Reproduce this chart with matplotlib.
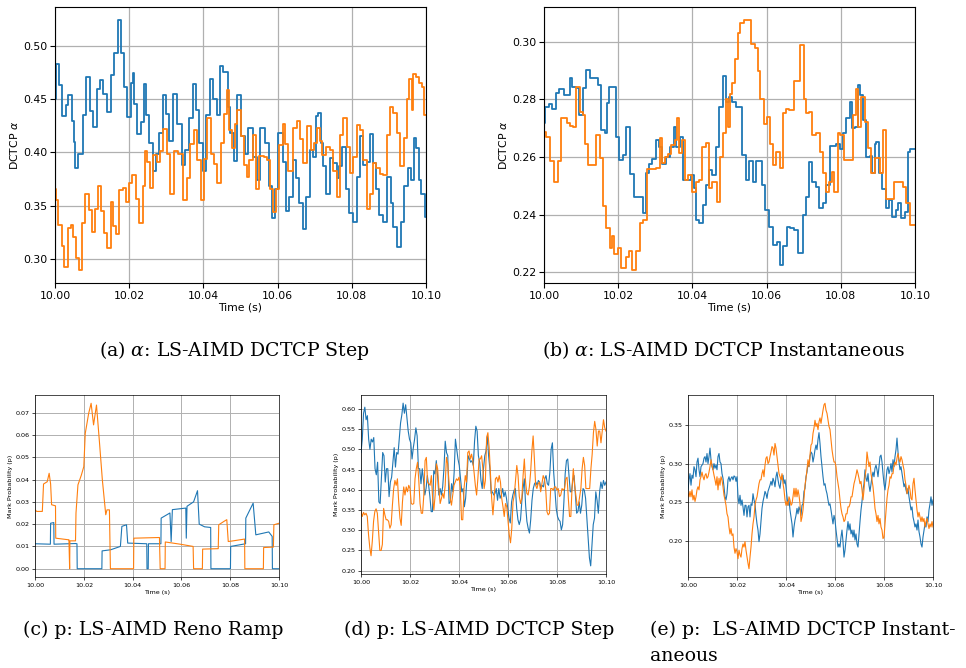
import numpy as np
import matplotlib
matplotlib.use("Agg")
import matplotlib.pyplot as plt
from matplotlib.ticker import FormatStrFormatter

BLUE = "#1f77b4"
ORANGE = "#ff7f0e"

# ---------------- (a) alpha: LS-AIMD DCTCP Step (times in ms after 10 s) ----------------
a_blue_t = [0, 0.2, 1.2, 2.0, 3.0, 3.6, 4.5, 5.0, 5.4, 6.3, 7.5, 8.4, 9.3, 10.3, 11.2, 12.1, 13.0,
            13.9, 15.0, 16.0, 17.1, 17.7, 18.6, 19.5, 20.4, 20.9, 21.3, 22.2, 23.1, 24.0, 24.5,
            25.4, 26.3, 27.2, 28.1, 29.0, 29.9, 30.8, 31.9, 33.0, 34.1, 35.0, 36.1, 37.1, 38.0,
            38.9, 39.8, 40.7, 41.8, 42.7, 43.6, 44.5, 45.4, 46.5, 47.3, 48.2, 49.1, 50.0, 51.2,
            52.1, 53.5, 54.4, 55.3, 56.6, 57.8, 58.4, 59.3, 60.2, 61.4, 62.3, 63.2, 64.1, 65.0,
            65.9, 66.8, 67.7, 68.6, 69.6, 70.4, 71.0, 71.6, 72.3, 73.0, 74.1, 75.0, 75.9, 76.6,
            77.3, 78.4, 79.3, 80.2, 81.3, 82.2, 83.1, 84.0, 84.9, 85.6, 86.5, 87.4, 88.5, 89.4,
            90.5, 91.2, 92.1, 93.3, 94.2, 95.1, 95.9, 96.8, 97.4, 98.1, 98.7, 99.6, 100]
a_blue_v = [0.450, 0.483, 0.463, 0.434, 0.445, 0.454, 0.430, 0.410, 0.385, 0.399, 0.435, 0.471,
            0.439, 0.424, 0.460, 0.468, 0.455, 0.438, 0.473, 0.494, 0.525, 0.494, 0.462, 0.433,
            0.465, 0.475, 0.446, 0.417, 0.429, 0.464, 0.435, 0.409, 0.383, 0.399, 0.418, 0.454,
            0.436, 0.411, 0.455, 0.427, 0.388, 0.402, 0.432, 0.464, 0.440, 0.409, 0.383, 0.435,
            0.469, 0.450, 0.435, 0.481, 0.476, 0.443, 0.418, 0.392, 0.454, 0.415, 0.399, 0.423,
            0.396, 0.374, 0.423, 0.409, 0.368, 0.338, 0.366, 0.418, 0.391, 0.345, 0.358, 0.393,
            0.376, 0.352, 0.328, 0.358, 0.402, 0.396, 0.434, 0.437, 0.409, 0.387, 0.361, 0.395,
            0.390, 0.376, 0.387, 0.405, 0.366, 0.343, 0.335, 0.377, 0.415, 0.388, 0.391, 0.417,
            0.390, 0.366, 0.341, 0.335, 0.377, 0.352, 0.330, 0.311, 0.335, 0.368, 0.385, 0.374,
            0.414, 0.404, 0.374, 0.361, 0.339, 0.339]
a_orng_t = [0, 0.3, 0.9, 1.8, 2.5, 3.4, 4.2, 4.9, 5.7, 6.6, 7.3, 8.2, 9.1, 9.9, 10.9, 11.7, 12.3,
            13.2, 14.1, 15.0, 15.7, 16.4, 17.3, 18.2, 19.1, 20.0, 20.8, 21.7, 22.6, 23.6, 24.3,
            24.9, 25.6, 26.5, 27.4, 28.3, 29.2, 30.1, 31.0, 32.1, 33.2, 34.4, 35.5, 36.4, 37.5,
            38.4, 39.3, 40.2, 41.1, 42.0, 42.9, 43.8, 44.7, 45.6, 46.3, 46.8, 47.7, 48.6, 49.1,
            50.0, 50.9, 51.7, 52.4, 53.3, 54.2, 55.1, 56.2, 57.1, 58.0, 58.7, 59.6, 60.5, 61.4,
            62.1, 62.8, 64.2, 65.1, 66.0, 66.9, 67.8, 68.9, 69.8, 70.7, 71.4, 72.1, 73.0, 74.1,
            75.0, 75.9, 76.8, 77.7, 78.6, 79.5, 80.4, 81.3, 82.2, 83.1, 84.0, 84.9, 85.8, 86.5,
            87.6, 88.5, 89.4, 90.3, 91.2, 92.1, 93.0, 94.1, 94.8, 95.5, 96.1, 96.6, 97.3, 98.2,
            98.8, 99.5, 100]
a_orng_v = [0.366, 0.355, 0.332, 0.312, 0.292, 0.329, 0.332, 0.320, 0.301, 0.289, 0.334, 0.361,
            0.346, 0.325, 0.347, 0.368, 0.345, 0.324, 0.310, 0.353, 0.331, 0.323, 0.365, 0.367,
            0.353, 0.371, 0.379, 0.356, 0.334, 0.368, 0.401, 0.391, 0.367, 0.398, 0.391, 0.401,
            0.422, 0.399, 0.361, 0.401, 0.399, 0.355, 0.376, 0.408, 0.421, 0.393, 0.355, 0.394,
            0.432, 0.399, 0.389, 0.371, 0.409, 0.436, 0.459, 0.421, 0.404, 0.427, 0.440, 0.415,
            0.388, 0.377, 0.393, 0.416, 0.366, 0.397, 0.396, 0.393, 0.366, 0.344, 0.366, 0.407,
            0.427, 0.408, 0.383, 0.423, 0.430, 0.413, 0.390, 0.425, 0.402, 0.409, 0.423, 0.411,
            0.398, 0.405, 0.402, 0.383, 0.358, 0.416, 0.432, 0.405, 0.381, 0.396, 0.426, 0.421,
            0.393, 0.347, 0.361, 0.390, 0.385, 0.380, 0.379, 0.416, 0.443, 0.437, 0.418, 0.387,
            0.414, 0.450, 0.469, 0.440, 0.474, 0.471, 0.465, 0.462, 0.435, 0.435]

# ---------------- (b) alpha: LS-AIMD DCTCP Instantaneous ----------------
b_blue_t = [0, 0.4, 1.3, 2.2, 3.3, 4.0, 5.3, 6.9, 7.6, 8.5, 9.4, 10.5, 11.4, 12.3, 14.6, 15.3,
            16.4, 17.0, 17.5, 19.3, 20.2, 21.3, 22.2, 23.1, 24.2, 26.7, 27.4, 28.3, 29.2, 30.1,
            31.0, 31.9, 33.0, 33.9, 35.0, 35.7, 36.6, 37.5, 39.7, 40.3, 40.9, 41.8, 42.9, 43.8,
            44.5, 45.4, 46.3, 47.2, 48.2, 49.1, 49.9, 50.8, 51.7, 53.5, 54.4, 55.3, 56.2, 57.1,
            58.8, 59.7, 60.6, 61.7, 62.8, 63.5, 64.4, 65.5, 66.4, 67.3, 68.5, 69.8, 70.7, 71.4,
            72.3, 73.2, 74.1, 75.2, 76.1, 77.0, 78.8, 79.7, 80.6, 81.5, 82.4, 83.1, 83.7, 84.6,
            85.3, 86.0, 86.9, 87.8, 88.5, 89.1, 89.6, 90.3, 91.2, 92.1, 93.0, 93.9, 94.8, 95.4,
            96.3, 97.2, 98.1, 98.7, 100]
b_blue_v = [0.2720, 0.2775, 0.2784, 0.2766, 0.2823, 0.2835, 0.2815, 0.2873, 0.2844, 0.2840,
            0.2746, 0.2840, 0.2902, 0.2873, 0.2850, 0.2694, 0.2683, 0.2786, 0.2844, 0.2671,
            0.2590, 0.2607, 0.2706, 0.2542, 0.2463, 0.2406, 0.2544, 0.2576, 0.2592, 0.2660,
            0.2636, 0.2576, 0.2602, 0.2636, 0.2706, 0.2636, 0.2671, 0.2521, 0.2538, 0.2492,
            0.2383, 0.2373, 0.2434, 0.2504, 0.2556, 0.2538, 0.2636, 0.2775, 0.2881, 0.2792,
            0.2810, 0.2792, 0.2775, 0.2607, 0.2521, 0.2586, 0.2512, 0.2586, 0.2504, 0.2417,
            0.2359, 0.2296, 0.2307, 0.2227, 0.2293, 0.2359, 0.2354, 0.2348, 0.2267, 0.2400,
            0.2463, 0.2584, 0.2515, 0.2498, 0.2423, 0.2440, 0.2504, 0.2638, 0.2645, 0.2627,
            0.2683, 0.2735, 0.2792, 0.2700, 0.2706, 0.2850, 0.2815, 0.2729, 0.2602, 0.2604,
            0.2544, 0.2645, 0.2654, 0.2544, 0.2489, 0.2423, 0.2452, 0.2394, 0.2415, 0.2440,
            0.2388, 0.2411, 0.2618, 0.2627, 0.2627]
b_orng_t = [0, 0.6, 1.7, 2.7, 3.8, 4.7, 6.2, 6.9, 7.8, 8.7, 9.6, 10.5, 11.1, 11.9, 13.9, 15.0,
            15.9, 16.8, 17.7, 18.4, 19.0, 19.9, 20.8, 22.0, 22.9, 23.8, 24.7, 25.8, 26.7, 27.8,
            30.3, 31.2, 31.9, 32.5, 33.4, 34.3, 35.2, 35.8, 36.4, 37.1, 37.9, 38.8, 40.0, 40.9,
            41.8, 42.7, 43.6, 44.5, 45.4, 46.5, 47.5, 48.2, 49.0, 49.7, 50.2, 50.8, 51.4, 52.3,
            52.9, 53.8, 54.7, 55.9, 56.8, 57.7, 58.3, 59.2, 60.1, 61.0, 61.7, 62.6, 63.5, 64.4,
            65.1, 66.0, 67.3, 69.1, 70.0, 70.7, 71.4, 72.3, 73.2, 74.3, 75.2, 76.1, 76.8, 77.5,
            78.3, 79.2, 79.9, 80.8, 83.3, 84.0, 84.6, 85.5, 86.4, 87.3, 88.2, 89.1, 90.5, 91.4,
            92.1, 94.3, 96.8, 97.7, 98.7, 100]
b_orng_v = [0.2688, 0.2671, 0.2588, 0.2512, 0.2588, 0.2734, 0.2717, 0.2708, 0.2706, 0.2842,
            0.2758, 0.2746, 0.2645, 0.2571, 0.2677, 0.2596, 0.2431, 0.2354, 0.2284, 0.2325,
            0.2265, 0.2284, 0.2215, 0.2255, 0.2276, 0.2207, 0.2276, 0.2373, 0.2382, 0.2558,
            0.2561, 0.2665, 0.2581, 0.2602, 0.2611, 0.2642, 0.2660, 0.2734, 0.2613, 0.2660,
            0.2521, 0.2538, 0.2480, 0.2515, 0.2521, 0.2636, 0.2648, 0.2492, 0.2512, 0.2446,
            0.2599, 0.2683, 0.2800, 0.2706, 0.2820, 0.2856, 0.2939, 0.3029, 0.3066, 0.3075,
            0.3077, 0.2991, 0.2979, 0.2898, 0.2803, 0.2715, 0.2740, 0.2645, 0.2573, 0.2619,
            0.2561, 0.2754, 0.2766, 0.2763, 0.2865, 0.2988, 0.2803, 0.2754, 0.2758, 0.2677,
            0.2685, 0.2616, 0.2546, 0.2480, 0.2515, 0.2550, 0.2480, 0.2685, 0.2677, 0.2590,
            0.2746, 0.2835, 0.2706, 0.2810, 0.2723, 0.2630, 0.2546, 0.2596, 0.2544, 0.2694,
            0.2454, 0.2512, 0.2498, 0.2442, 0.2365, 0.2365]

# ---------------- (c) p: LS-AIMD Reno Ramp ----------------
c_blue_t = [0, 6.3, 6.4, 7.7, 7.8, 16.6, 17.2, 17.3, 27.4, 27.5, 31, 35, 35.6, 37.5, 38, 45.8,
            45.9, 46.4, 46.5, 51.6, 51.7, 55.3, 55.8, 56.3, 61.8, 62.0, 62.3, 65, 66.6, 67.3,
            69.5, 72.0, 72.1, 80.1, 80.2, 86.3, 86.4, 89.4, 90.5, 95.8, 97.2, 97.3, 100]
c_blue_v = [0.0112, 0.0110, 0.0204, 0.0207, 0.0110, 0.0113, 0.0112, 0.0, 0.0, 0.0080, 0.0085,
            0.0100, 0.0190, 0.0197, 0.0115, 0.0112, 0.0, 0.0, 0.0112, 0.0112, 0.0227, 0.0250,
            0.0122, 0.0265, 0.0272, 0.0137, 0.0280, 0.0300, 0.0350, 0.0200, 0.0188, 0.0185,
            0.0, 0.0, 0.0100, 0.0112, 0.0227, 0.0294, 0.0152, 0.0165, 0.0145, 0.0, 0.0]
c_orng_t = [0, 0.7, 3.0, 3.5, 5.0, 5.8, 6.4, 6.8, 8.4, 8.5, 13.6, 13.9, 14.2, 14.3, 16.6, 16.8,
            17.6, 19.0, 20.0, 20.6, 22.0, 23.0, 24.0, 25.2, 26.4, 27.6, 29.0, 29.5, 30.5, 30.9,
            40.4, 40.5, 51.0, 51.3, 53.3, 53.4, 59.5, 64.8, 65.0, 68.6, 68.7, 75.1, 75.3, 77.4,
            78.6, 79.2, 81.2, 85.9, 86.0, 93.6, 93.7, 97.7, 97.9, 100]
c_orng_v = [0.0264, 0.0257, 0.0257, 0.0380, 0.0390, 0.0428, 0.0380, 0.0287, 0.0282, 0.0137,
            0.0130, 0.0130, 0.0, 0.0125, 0.0125, 0.0250, 0.0376, 0.0420, 0.0458, 0.0607,
            0.0697, 0.0742, 0.0645, 0.0734, 0.0570, 0.0399, 0.0242, 0.0264, 0.0264, 0.0,
            0.0, 0.0137, 0.0140, 0.0, 0.0, 0.0120, 0.0110, 0.0100, 0.0, 0.0, 0.0088, 0.0090,
            0.0197, 0.0212, 0.0220, 0.0122, 0.0125, 0.0133, 0.0, 0.0, 0.0095, 0.0097, 0.0197,
            0.0204]

# ---------------- (d) p: LS-AIMD DCTCP Step (evenly sampled over 10.00-10.10 s) ----------------
d_blue = [0.492, 0.525, 0.589, 0.604, 0.573, 0.583, 0.525, 0.500, 0.525, 0.518, 0.529, 0.452,
          0.437, 0.468, 0.370, 0.366, 0.431, 0.492, 0.484, 0.419, 0.452, 0.452, 0.383, 0.419,
          0.431, 0.468, 0.504, 0.456, 0.492, 0.488, 0.525, 0.565, 0.585, 0.614, 0.589, 0.610,
          0.577, 0.545, 0.525, 0.516, 0.476, 0.504, 0.525, 0.553, 0.533, 0.452, 0.452, 0.415,
          0.452, 0.423, 0.387, 0.403, 0.435, 0.411, 0.383, 0.346, 0.346, 0.447, 0.439, 0.472,
          0.435, 0.387, 0.403, 0.387, 0.407, 0.452, 0.520, 0.492, 0.484, 0.366, 0.370, 0.415,
          0.395, 0.443, 0.525, 0.500, 0.476, 0.460, 0.427, 0.395, 0.403, 0.358, 0.379, 0.427,
          0.484, 0.476, 0.468, 0.472, 0.460, 0.520, 0.557, 0.545, 0.484, 0.468, 0.423, 0.403,
          0.452, 0.484, 0.496, 0.533, 0.484, 0.452, 0.391, 0.395, 0.387, 0.391, 0.403, 0.374,
          0.403, 0.379, 0.387, 0.403, 0.383, 0.395, 0.379, 0.354, 0.330, 0.318, 0.370, 0.387,
          0.399, 0.403, 0.354, 0.326, 0.314, 0.326, 0.370, 0.403, 0.427, 0.362, 0.322, 0.305,
          0.293, 0.326, 0.374, 0.403, 0.415, 0.419, 0.411, 0.423, 0.419, 0.403, 0.411, 0.407,
          0.427, 0.435, 0.415, 0.411, 0.443, 0.500, 0.516, 0.443, 0.399, 0.354, 0.334, 0.326,
          0.322, 0.301, 0.314, 0.370, 0.439, 0.472, 0.476, 0.435, 0.395, 0.395, 0.423, 0.435,
          0.387, 0.342, 0.346, 0.370, 0.342, 0.362, 0.403, 0.399, 0.379, 0.330, 0.281, 0.232,
          0.212, 0.261, 0.314, 0.330, 0.395, 0.374, 0.342, 0.395, 0.419, 0.403, 0.423, 0.411,
          0.419]
d_orng = [0.346, 0.334, 0.344, 0.338, 0.342, 0.334, 0.289, 0.257, 0.237, 0.273, 0.322, 0.346,
          0.353, 0.342, 0.297, 0.250, 0.250, 0.265, 0.354, 0.338, 0.326, 0.326, 0.322, 0.305,
          0.314, 0.362, 0.403, 0.423, 0.411, 0.427, 0.370, 0.330, 0.312, 0.370, 0.407, 0.387,
          0.407, 0.395, 0.411, 0.403, 0.366, 0.364, 0.366, 0.427, 0.452, 0.468, 0.423, 0.366,
          0.342, 0.342, 0.387, 0.472, 0.480, 0.419, 0.415, 0.411, 0.435, 0.379, 0.350, 0.387,
          0.464, 0.452, 0.403, 0.366, 0.379, 0.391, 0.379, 0.411, 0.480, 0.464, 0.423, 0.379,
          0.362, 0.387, 0.411, 0.419, 0.427, 0.423, 0.431, 0.407, 0.326, 0.326, 0.403, 0.435,
          0.419, 0.492, 0.496, 0.476, 0.488, 0.472, 0.443, 0.411, 0.387, 0.427, 0.476, 0.476,
          0.484, 0.452, 0.403, 0.423, 0.529, 0.541, 0.504, 0.443, 0.379, 0.338, 0.379, 0.427,
          0.431, 0.419, 0.435, 0.419, 0.379, 0.358, 0.334, 0.366, 0.358, 0.322, 0.289, 0.269,
          0.305, 0.370, 0.387, 0.423, 0.460, 0.435, 0.383, 0.366, 0.379, 0.435, 0.476, 0.419,
          0.391, 0.387, 0.407, 0.443, 0.496, 0.533, 0.476, 0.411, 0.403, 0.415, 0.419, 0.395,
          0.415, 0.435, 0.427, 0.403, 0.346, 0.338, 0.342, 0.403, 0.403, 0.399, 0.407, 0.407,
          0.399, 0.403, 0.383, 0.387, 0.403, 0.399, 0.403, 0.427, 0.431, 0.379, 0.334, 0.334,
          0.407, 0.452, 0.411, 0.387, 0.362, 0.362, 0.383, 0.403, 0.452, 0.480, 0.460, 0.403,
          0.403, 0.403, 0.403, 0.452, 0.488, 0.541, 0.569, 0.549, 0.508, 0.545, 0.545, 0.516,
          0.545, 0.573, 0.553, 0.545]

# ---------------- (e) p: LS-AIMD DCTCP Instantaneous (evenly sampled) ----------------
e_blue = [0.266, 0.279, 0.287, 0.272, 0.285, 0.281, 0.296, 0.292, 0.283, 0.302, 0.307, 0.292,
          0.283, 0.296, 0.298, 0.300, 0.307, 0.309, 0.302, 0.313, 0.300, 0.309, 0.320, 0.305,
          0.296, 0.292, 0.300, 0.294, 0.298, 0.292, 0.309, 0.313, 0.302, 0.300, 0.287, 0.281,
          0.270, 0.257, 0.253, 0.261, 0.279, 0.283, 0.277, 0.281, 0.283, 0.279, 0.284, 0.283,
          0.277, 0.283, 0.257, 0.248, 0.259, 0.246, 0.253, 0.244, 0.233, 0.246, 0.246, 0.231,
          0.244, 0.246, 0.231, 0.248, 0.246, 0.261, 0.253, 0.248, 0.233, 0.222, 0.214, 0.199,
          0.209, 0.225, 0.242, 0.251, 0.257, 0.264, 0.261, 0.255, 0.264, 0.268, 0.272, 0.277,
          0.272, 0.281, 0.277, 0.270, 0.283, 0.289, 0.279, 0.272, 0.268, 0.279, 0.283, 0.285,
          0.274, 0.279, 0.270, 0.257, 0.246, 0.253, 0.240, 0.231, 0.222, 0.205, 0.218, 0.227,
          0.233, 0.242, 0.235, 0.244, 0.240, 0.233, 0.246, 0.248, 0.264, 0.268, 0.283, 0.289,
          0.300, 0.296, 0.309, 0.315, 0.313, 0.302, 0.309, 0.318, 0.324, 0.318, 0.331, 0.340,
          0.326, 0.309, 0.296, 0.283, 0.272, 0.274, 0.266, 0.261, 0.253, 0.246, 0.248, 0.240,
          0.231, 0.222, 0.233, 0.227, 0.214, 0.203, 0.192, 0.196, 0.192, 0.205, 0.214, 0.199,
          0.179, 0.188, 0.201, 0.214, 0.225, 0.214, 0.222, 0.209, 0.214, 0.205, 0.214, 0.201,
          0.209, 0.196, 0.192, 0.209, 0.225, 0.240, 0.251, 0.266, 0.274, 0.292, 0.281, 0.277,
          0.287, 0.272, 0.264, 0.274, 0.283, 0.289, 0.283, 0.294, 0.298, 0.292, 0.283, 0.296,
          0.309, 0.311, 0.302, 0.287, 0.274, 0.266, 0.279, 0.292, 0.296, 0.287, 0.292, 0.300,
          0.289, 0.305, 0.296, 0.309, 0.318, 0.333, 0.315, 0.302, 0.292, 0.296, 0.287, 0.279,
          0.270, 0.274, 0.266, 0.261, 0.268, 0.257, 0.248, 0.240, 0.244, 0.231, 0.225, 0.218,
          0.222, 0.214, 0.227, 0.212, 0.205, 0.196, 0.192, 0.205, 0.214, 0.222, 0.218, 0.231,
          0.225, 0.240, 0.248, 0.257, 0.246, 0.253]
e_orng = [0.261, 0.257, 0.264, 0.257, 0.266, 0.253, 0.259, 0.251, 0.257, 0.266, 0.270, 0.266,
          0.279, 0.283, 0.289, 0.283, 0.279, 0.285, 0.287, 0.281, 0.283, 0.289, 0.296, 0.305,
          0.298, 0.292, 0.285, 0.279, 0.272, 0.283, 0.266, 0.281, 0.272, 0.283, 0.279, 0.270,
          0.259, 0.253, 0.246, 0.235, 0.231, 0.218, 0.209, 0.216, 0.207, 0.209, 0.192, 0.184,
          0.190, 0.186, 0.177, 0.188, 0.182, 0.179, 0.190, 0.196, 0.192, 0.199, 0.188, 0.179,
          0.171, 0.164, 0.179, 0.192, 0.209, 0.222, 0.231, 0.246, 0.253, 0.257, 0.266, 0.274,
          0.279, 0.279, 0.287, 0.292, 0.283, 0.298, 0.307, 0.309, 0.300, 0.302, 0.309, 0.315,
          0.322, 0.320, 0.311, 0.326, 0.320, 0.309, 0.298, 0.287, 0.283, 0.279, 0.287, 0.274,
          0.266, 0.253, 0.246, 0.251, 0.246, 0.257, 0.253, 0.246, 0.248, 0.257, 0.268, 0.257,
          0.268, 0.257, 0.266, 0.259, 0.248, 0.225, 0.231, 0.240, 0.255, 0.272, 0.281, 0.292,
          0.305, 0.296, 0.311, 0.324, 0.326, 0.339, 0.346, 0.356, 0.348, 0.352, 0.344, 0.354,
          0.359, 0.352, 0.361, 0.369, 0.376, 0.378, 0.369, 0.365, 0.356, 0.348, 0.344, 0.331,
          0.318, 0.309, 0.302, 0.302, 0.296, 0.283, 0.274, 0.266, 0.253, 0.242, 0.235, 0.231,
          0.225, 0.227, 0.235, 0.235, 0.244, 0.244, 0.248, 0.257, 0.257, 0.266, 0.274, 0.279,
          0.285, 0.292, 0.287, 0.281, 0.274, 0.277, 0.266, 0.253, 0.266, 0.283, 0.292, 0.315,
          0.305, 0.296, 0.302, 0.287, 0.279, 0.270, 0.257, 0.242, 0.235, 0.225, 0.233, 0.222,
          0.229, 0.218, 0.214, 0.203, 0.205, 0.222, 0.240, 0.255, 0.266, 0.272, 0.283, 0.281,
          0.287, 0.287, 0.298, 0.302, 0.298, 0.307, 0.313, 0.305, 0.302, 0.309, 0.305, 0.298,
          0.292, 0.279, 0.272, 0.261, 0.266, 0.272, 0.266, 0.255, 0.253, 0.274, 0.281, 0.266,
          0.253, 0.240, 0.231, 0.237, 0.231, 0.225, 0.231, 0.225, 0.229, 0.218, 0.225, 0.229,
          0.222, 0.216, 0.222, 0.218, 0.225, 0.218]

x_ticks = [10.00, 10.02, 10.04, 10.06, 10.08, 10.10]
a_yticks = [0.30, 0.35, 0.40, 0.45, 0.50]
b_yticks = [0.22, 0.24, 0.26, 0.28, 0.30]
c_yticks = [0.00, 0.01, 0.02, 0.03, 0.04, 0.05, 0.06, 0.07]
d_yticks = [0.20, 0.25, 0.30, 0.35, 0.40, 0.45, 0.50, 0.55, 0.60]
e_yticks = [0.20, 0.25, 0.30, 0.35]

captions = {
    "a": r"(a) $\alpha$: LS-AIMD DCTCP Step",
    "b": r"(b) $\alpha$: LS-AIMD DCTCP Instantaneous",
    "c": "(c) p: LS-AIMD Reno Ramp",
    "d": "(d) p: LS-AIMD DCTCP Step",
    "e1": "(e) p:  LS-AIMD DCTCP Instant-",
    "e2": "aneous",
}

W, H = 966, 668
fig = plt.figure(figsize=(W / 100, H / 100), dpi=100)


def add_ax(left, top, right, bottom):
    return fig.add_axes([left / W, 1 - bottom / H, (right - left) / W, (bottom - top) / H])


def ms_to_s(ms):
    return 10.0 + np.asarray(ms) / 1000.0


def style(ax, yticks, fmt, ylabel, fs, lw_grid, ticklen, spine_lw):
    ax.set_xlim(10.0, 10.1)
    ax.set_xticks(x_ticks)
    ax.set_yticks(yticks)
    ax.xaxis.set_major_formatter(FormatStrFormatter("%.2f"))
    ax.yaxis.set_major_formatter(FormatStrFormatter(fmt))
    ax.grid(True, color="#b0b0b0", linewidth=lw_grid)
    ax.set_axisbelow(True)
    ax.tick_params(labelsize=fs, length=ticklen, width=spine_lw, pad=2)
    ax.set_xlabel("Time (s)", fontsize=fs, labelpad=1.5)
    ax.set_ylabel(ylabel, fontsize=fs, labelpad=2)
    for s in ax.spines.values():
        s.set_linewidth(spine_lw)


# top row
ax_a = add_ax(55, 7, 426, 283)
ax_a.step(ms_to_s(a_blue_t), a_blue_v, where="post", color=BLUE, lw=1.3)
ax_a.step(ms_to_s(a_orng_t), a_orng_v, where="post", color=ORANGE, lw=1.3)
style(ax_a, a_yticks, "%.2f", r"DCTCP $\alpha$", 7.8, 0.9, 3.5, 0.8)

ax_b = add_ax(544, 7, 915, 283)
ax_b.step(ms_to_s(b_blue_t), b_blue_v, where="post", color=BLUE, lw=1.3)
ax_b.step(ms_to_s(b_orng_t), b_orng_v, where="post", color=ORANGE, lw=1.3)
style(ax_b, b_yticks, "%.2f", r"DCTCP $\alpha$", 7.8, 0.9, 3.5, 0.8)

# bottom row
ax_c = add_ax(35, 395, 279, 577)
ax_c.plot(ms_to_s(c_blue_t), c_blue_v, color=BLUE, lw=0.8)
ax_c.plot(ms_to_s(c_orng_t), c_orng_v, color=ORANGE, lw=0.8)
style(ax_c, c_yticks, "%.2f", "Mark Probability (p)", 4.6, 0.7, 2.0, 0.5)

ax_d = add_ax(361, 395, 606, 574)
ax_d.plot(np.linspace(10.0, 10.1, len(d_blue)), d_blue, color=BLUE, lw=0.8)
ax_d.plot(np.linspace(10.0, 10.1, len(d_orng)), d_orng, color=ORANGE, lw=0.8)
style(ax_d, d_yticks, "%.2f", "Mark Probability (p)", 4.6, 0.7, 2.0, 0.5)

ax_e = add_ax(688, 395, 933, 577)
ax_e.plot(np.linspace(10.0, 10.1, len(e_blue)), e_blue, color=BLUE, lw=0.8)
ax_e.plot(np.linspace(10.0, 10.1, len(e_orng)), e_orng, color=ORANGE, lw=0.8)
style(ax_e, e_yticks, "%.2f", "Mark Probability (p)", 4.6, 0.7, 2.0, 0.5)

cap_kw = dict(family="DejaVu Serif", fontsize=13.6, math_fontfamily="dejavuserif", va="center")
fig.text(234 / W, 1 - 350 / H, captions["a"], ha="center", **cap_kw)
fig.text(724 / W, 1 - 350 / H, captions["b"], ha="center", **cap_kw)
fig.text(153 / W, 1 - 630 / H, captions["c"], ha="center", **cap_kw)
fig.text(479 / W, 1 - 630 / H, captions["d"], ha="center", **cap_kw)
fig.text(650 / W, 1 - 630 / H, captions["e1"], ha="left", **cap_kw)
fig.text(650 / W, 1 - 656 / H, captions["e2"], ha="left", **cap_kw)

fig.savefig("out.png", dpi=100)
